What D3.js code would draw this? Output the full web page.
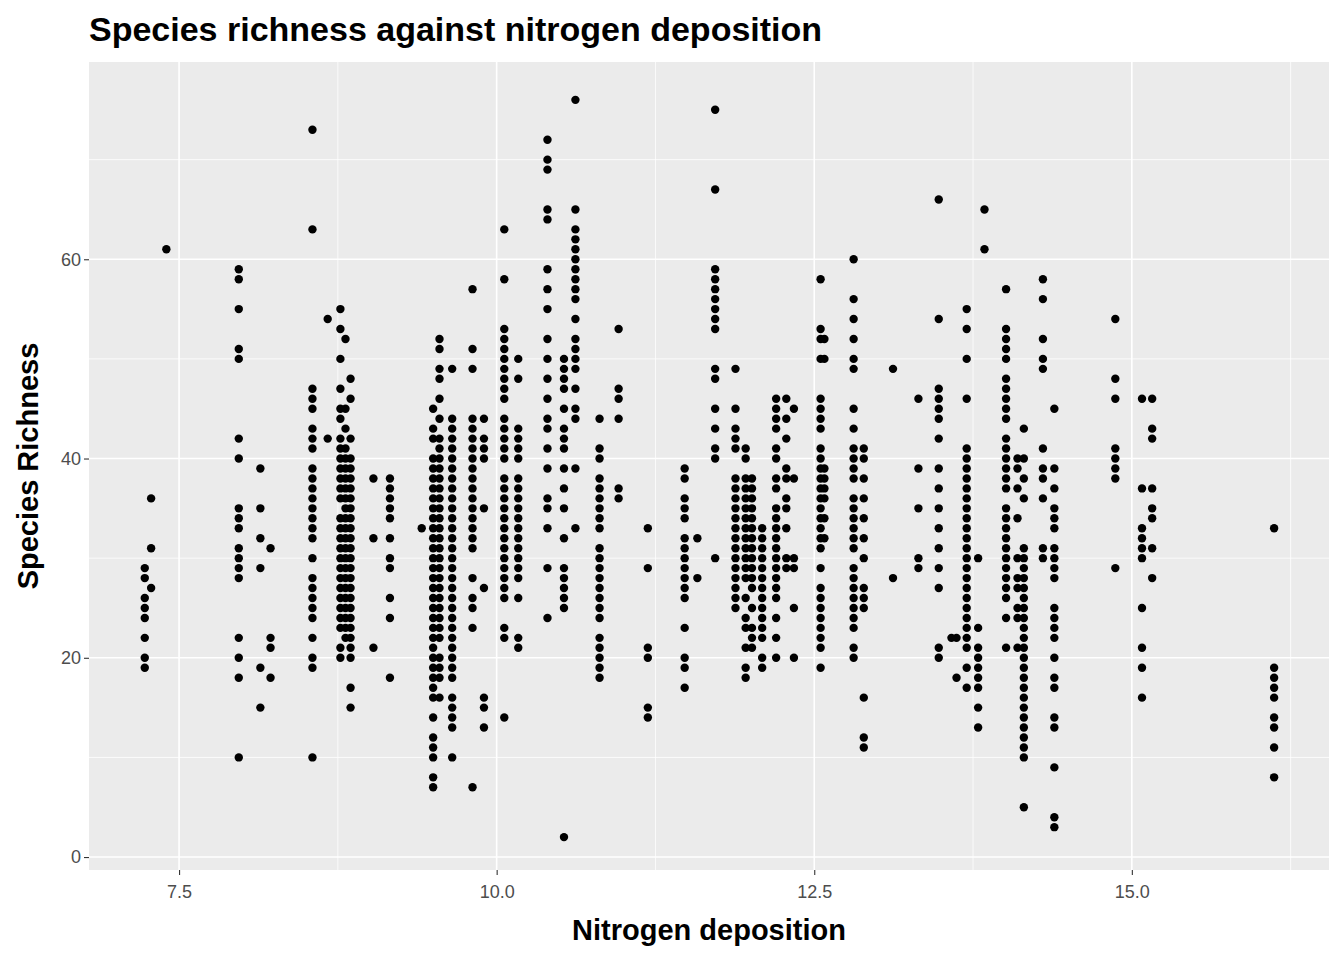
<!DOCTYPE html>
<html><head><meta charset="utf-8">
<script src="https://cdn.jsdelivr.net/npm/d3@7"></script>
<style>body{margin:0;background:#fff}</style>
</head><body>
<script>
// nitrogen deposition of each site column, and the richness values recorded there
var nitrogen = [7.23,7.28,7.40,7.97,8.14,8.22,8.55,8.67,8.77,8.81,8.85,9.03,9.16,9.41,9.50,9.55,9.65,9.81,9.90,10.06,10.17,10.40,10.53,10.62,10.81,10.96,11.19,11.48,11.58,11.72,11.88,11.96,12.01,12.09,12.20,12.28,12.34,12.55,12.58,12.81,12.89,13.12,13.32,13.48,13.58,13.62,13.70,13.79,13.84,14.01,14.10,14.15,14.30,14.39,14.87,15.08,15.16,16.12];
var richness = [
[19,20,22,24,25,26,28,29],
[27,31,36],
[61],
[10,18,20,22,28,29,30,31,33,34,35,40,42,50,51,55,58,59],
[15,19,29,32,35,39],
[18,21,22,31],
[10,19,20,22,24,25,26,27,28,30,32,33,34,35,36,37,38,39,41,42,43,45,46,47,63,73],
[42,54],
[20,21,23,24,25,26,27,28,29,30,31,32,33,34,36,37,38,39,40,41,42,44,45,47,50,53,55],
[22,23,24,25,26,27,28,29,30,31,32,33,34,35,36,37,38,39,40,41,43,45,52],
[15,17,20,21,22,23,24,25,26,27,28,29,30,31,32,33,34,35,36,37,38,39,40,42,46,48],
[21,32,38],
[18,24,26,29,30,32,34,35,36,37,38],
[33],
[7,8,10,11,12,14,16,17,18,19,20,21,22,23,24,25,26,27,28,29,30,31,32,33,34,35,36,37,38,39,40,42,43,45],
[16,18,19,20,22,23,24,25,26,27,28,29,30,31,32,33,34,35,36,37,38,39,40,41,42,44,46,48,49,51,52],
[10,13,14,15,16,18,19,20,21,22,23,24,25,26,27,28,29,30,31,32,33,34,35,36,37,38,39,40,41,42,43,44,49],
[7,23,25,26,28,31,32,33,34,35,36,37,38,39,40,41,42,43,44,49,51,57],
[13,15,16,27,35,40,41,42,44],
[14,22,23,26,27,28,29,30,31,32,33,34,35,36,37,38,40,41,42,43,44,46,47,48,49,50,51,52,53,58,63],
[21,22,26,28,29,30,31,32,33,34,35,36,37,38,40,41,42,43,48,50],
[24,29,33,35,36,39,41,43,44,46,48,50,52,55,57,59,64,65,69,70,72],
[2,25,26,27,28,29,32,35,37,39,41,42,43,45,47,48,49,50],
[33,39,44,45,47,49,50,51,52,54,56,57,58,59,60,61,62,63,65,76],
[18,19,20,21,22,24,25,26,27,28,29,30,31,33,34,35,36,37,38,40,41,44],
[36,37,44,46,47,53],
[14,15,20,21,29,33],
[17,19,20,23,26,27,28,29,30,31,32,34,35,36,38,39],
[28,32],
[30,40,41,43,45,48,49,53,54,55,56,57,58,59,67,75],
[25,26,27,28,29,30,31,32,33,34,35,36,37,38,41,42,43,45,49],
[18,19,21,23,24,26,28,29,30,31,32,33,34,35,36,37,38,40,41],
[21,22,23,25,27,28,29,30,31,32,33,34,35,36,37,38],
[19,20,22,23,24,25,26,27,28,29,30,31,32,33],
[20,22,24,26,27,28,29,30,31,32,33,34,35,37,38,40,41,43,44,45,46],
[29,30,33,35,36,38,39,42,44,46],
[20,25,29,30,38,45],
[19,21,22,23,24,25,26,27,29,31,32,33,34,35,36,37,38,39,40,41,43,44,45,46,50,52,53,58],
[32,34,36,37,38,39,50,52],
[20,21,23,24,25,26,27,28,29,31,32,33,34,35,36,38,39,40,41,43,45,49,50,52,54,56,60],
[11,12,16,25,26,27,30,32,34,36,38,40,41],
[28,49],
[29,30,35,39,46],
[20,21,27,29,31,33,35,37,39,42,44,45,46,47,54,66],
[22],
[18,22],
[17,19,21,22,23,24,25,26,27,28,29,30,31,32,33,34,35,36,37,38,39,40,41,46,50,53,55],
[13,15,17,18,19,20,21,23,30],
[61,65],
[21,24,26,27,28,29,30,31,32,33,34,35,37,38,39,40,41,42,44,45,46,47,48,50,51,52,53,57],
[21,24,25,27,28,30,34,37,39,40],
[5,10,11,12,13,14,15,16,17,18,19,20,21,22,23,24,25,26,27,28,29,30,31,36,38,40,43],
[30,31,36,38,39,41,49,50,52,56,58],
[3,4,9,13,14,17,18,20,22,23,24,25,28,29,30,31,33,34,35,37,39,45],
[29,38,39,40,41,46,48,54],
[16,19,21,25,30,31,32,33,37,46],
[28,31,34,35,37,42,43,46],
[8,11,13,14,16,17,18,19,33]
];
var xTicks = [7.5, 10, 12.5, 15];
var yTicks = [0, 20, 40, 60];

var points = [];
nitrogen.forEach(function(n, i){
	richness[i].forEach(function(r){ points.push({n: n, r: r}); });
});

var W = 1344, H = 960;
var pLeft = 89, pRight = 1329, pTop = 62, pBottom = 870;

var x = d3.scaleLinear().domain([6.791, 16.552]).range([pLeft, pRight]);
var y = d3.scaleLinear().domain([-1.3, 79.8]).range([pBottom, pTop]);

var svg = d3.select("body").append("svg").attr("width", W).attr("height", H)
	.style("font-family", "Arial, 'Liberation Sans', sans-serif");

svg.append("rect").attr("x", pLeft).attr("y", pTop)
	.attr("width", pRight - pLeft).attr("height", pBottom - pTop).attr("fill", "#ebebeb");

var minorX = [8.75, 11.25, 13.75, 16.25], minorY = [10, 30, 50, 70];
svg.selectAll(".mx").data(minorX).enter().append("line")
	.attr("x1", x).attr("x2", x).attr("y1", pTop).attr("y2", pBottom)
	.attr("stroke", "#fff").attr("stroke-width", 0.8);
svg.selectAll(".my").data(minorY).enter().append("line")
	.attr("y1", y).attr("y2", y).attr("x1", pLeft).attr("x2", pRight)
	.attr("stroke", "#fff").attr("stroke-width", 0.8);
svg.selectAll(".gx").data(xTicks).enter().append("line")
	.attr("x1", x).attr("x2", x).attr("y1", pTop).attr("y2", pBottom)
	.attr("stroke", "#fff").attr("stroke-width", 1.6);
svg.selectAll(".gy").data(yTicks).enter().append("line")
	.attr("y1", y).attr("y2", y).attr("x1", pLeft).attr("x2", pRight)
	.attr("stroke", "#fff").attr("stroke-width", 1.6);

var xAxis = svg.append("g").attr("transform", "translate(0," + pBottom + ")")
	.call(d3.axisBottom(x).tickValues(xTicks).tickSize(5).tickFormat(d3.format(".1f")));
var yAxis = svg.append("g").attr("transform", "translate(" + pLeft + ",0)")
	.call(d3.axisLeft(y).tickValues(yTicks).tickSize(5));
[xAxis, yAxis].forEach(function(a){
	a.select(".domain").remove();
	a.selectAll("line").attr("stroke", "#333").attr("stroke-width", 1.1);
	a.selectAll("text").attr("fill", "#4d4d4d").style("font-size", "18px");
});
xAxis.selectAll("text").attr("dy", "1.1em");

svg.selectAll("circle").data(points).enter().append("circle")
	.attr("cx", function(d){ return x(d.n); })
	.attr("cy", function(d){ return y(d.r); })
	.attr("r", 4.2).attr("fill", "#000");

svg.append("text").attr("x", 89).attr("y", 41).text("Species richness against nitrogen deposition")
	.style("font-size", "34px").style("font-weight", "bold");
svg.append("text").attr("x", (pLeft + pRight) / 2).attr("y", 940).attr("text-anchor", "middle")
	.text("Nitrogen deposition").style("font-size", "29px").style("font-weight", "bold");
svg.append("text").attr("transform", "translate(38," + (pTop + pBottom) / 2 + ") rotate(-90)")
	.attr("text-anchor", "middle").text("Species Richness")
	.style("font-size", "29px").style("font-weight", "bold");
</script>
</body></html>
